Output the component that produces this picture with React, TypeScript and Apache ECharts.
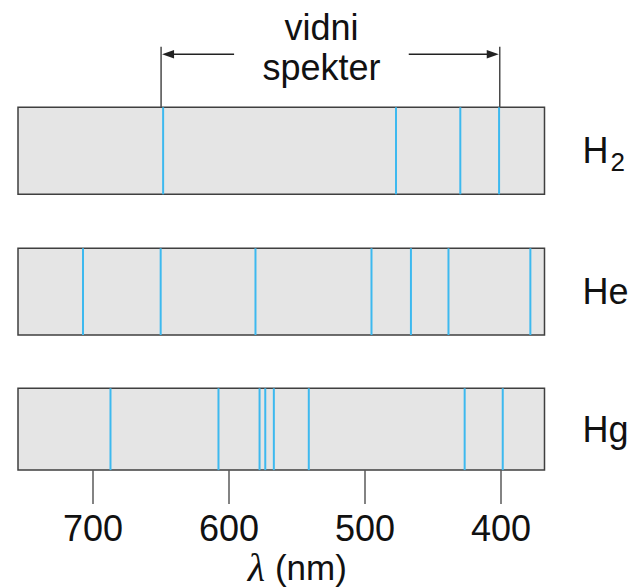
import React, { useEffect, useRef } from "react";
import * as echarts from "echarts";

// ---- data ----
const elements = ["H2", "He", "Hg"];
const h2Lines = [648.5, 477.3, 430.0, 401.5];
const heLines = [707.4, 650.3, 580.6, 495.3, 466.3, 438.7, 378.5];
const hgLines = [687.2, 607.8, 577.6, 573.4, 567.1, 541.4, 426.8, 398.8];
const lineSets = [h2Lines, heLines, hgLines];
const tickValues = [700, 600, 500, 400];
const visibleRange = [650, 401];
const visibleLabel = ["vidni", "spekter"];
const axisMin = 368.1;
const axisMax = 755.2;

const SANS = '"Liberation Sans", Arial, Helvetica, sans-serif';
const SERIF = '"Liberation Serif", "DejaVu Serif", serif';
const LINE_COLOR = "#3db9ef";
const BOX_FILL = "#e5e5e5";
const BOX_BORDER = "#3f3f3f";

export default function App() {
  const ref = useRef<HTMLDivElement>(null);

  useEffect(() => {
    if (!ref.current) return;
    const chart = echarts.init(ref.current, undefined, { renderer: "svg" });

    const gridBase = { left: 18, right: 90.5 };
    const grids: any[] = [
      { ...gridBase, top: 107.3, height: 87, show: true, backgroundColor: BOX_FILL, borderColor: BOX_BORDER, borderWidth: 1.5 },
      { ...gridBase, top: 248.3, height: 86.7, show: true, backgroundColor: BOX_FILL, borderColor: BOX_BORDER, borderWidth: 1.5 },
      { ...gridBase, top: 388.3, height: 87.4, show: true, backgroundColor: BOX_FILL, borderColor: BOX_BORDER, borderWidth: 1.5 },
      { ...gridBase, top: 46.7, height: 60.6, show: false },
    ];

    const hiddenX = (i: number) => ({
      gridIndex: i,
      type: "value",
      min: axisMin,
      max: axisMax,
      inverse: true,
      show: false,
    });

    const xAxes: any[] = [
      hiddenX(0),
      hiddenX(1),
      {
        gridIndex: 2,
        type: "value",
        min: axisMin,
        max: axisMax,
        inverse: true,
        axisLine: { show: false },
        splitLine: { show: false },
        axisTick: {
          show: true,
          length: 34,
          customValues: tickValues,
          lineStyle: { color: "#5a5a5a", width: 1.5 },
        },
        axisLabel: {
          customValues: tickValues,
          fontSize: 36,
          lineHeight: 36,
          color: "#111",
          fontFamily: SANS,
          margin: 40,
        },
        name: "{l|λ}{n|(nm)}",
        nameLocation: "middle",
        nameGap: 73,
        nameTextStyle: {
          padding: [0, 0, 0, 32],
          rich: {
            l: {
              fontFamily: SERIF,
              fontStyle: "italic",
              fontSize: 40,
              color: "#111",
              padding: [0, 10, 0, 0],
            },
            n: { fontFamily: SANS, fontSize: 35, color: "#111" },
          },
        },
      },
      hiddenX(3),
    ];

    const yAxes: any[] = elements.map((name, i) => ({
      gridIndex: i,
      type: "category",
      data: [name],
      position: "right",
      axisLine: { show: false },
      axisTick: { show: false },
      splitLine: { show: false },
      axisLabel: {
        margin: 38,
        align: "left",
        formatter: (v: string) =>
          v === "H2" ? "{h|H}{s|2}" : "{h|" + v + "}",
        rich: {
          h: { fontSize: 36, fontFamily: SANS, color: "#111" },
          s: {
            fontSize: 26,
            fontFamily: SANS,
            color: "#111",
            padding: [22, 0, 0, 2],
            verticalAlign: "bottom",
          },
        },
      },
    }));
    yAxes.push({ gridIndex: 3, type: "value", min: 0, max: 1, show: false });

    const lineSeries = lineSets.map((vals, i) => ({
      type: "custom",
      name: elements[i],
      xAxisIndex: i,
      yAxisIndex: i,
      silent: true,
      data: vals.map((v) => [v, elements[i]]),
      encode: { x: 0, y: 1 },
      renderItem: (params: any, api: any) => {
        const cs = params.coordSys;
        const x = api.coord([api.value(0), 0])[0];
        return {
          type: "line",
          shape: { x1: x, y1: cs.y, x2: x, y2: cs.y + cs.height },
          style: { stroke: LINE_COLOR, lineWidth: 2 },
        };
      },
    }));

    const annotation = {
      type: "custom",
      name: "visible",
      xAxisIndex: 3,
      yAxisIndex: 3,
      silent: true,
      data: [[visibleRange[0], visibleRange[1]]],
      encode: { x: [0, 1] },
      renderItem: (params: any, api: any) => {
        const cs = params.coordSys;
        const xL = api.coord([api.value(0), 0])[0];
        const xR = api.coord([api.value(1), 0])[0];
        const top = cs.y;
        const bottom = cs.y + cs.height;
        const ay = top + 7.6;
        const leftEnd = xL + 73;
        const rightStart = xR - 91;
        const cx = (leftEnd + rightStart) / 2;
        const stroke = { stroke: "#4a4a4a", lineWidth: 1.5 };
        const arrowStroke = { stroke: "#222", lineWidth: 1.5 };
        return {
          type: "group",
          children: [
            { type: "line", shape: { x1: xL, y1: top, x2: xL, y2: bottom }, style: stroke },
            { type: "line", shape: { x1: xR, y1: top, x2: xR, y2: bottom }, style: stroke },
            { type: "line", shape: { x1: xL + 8, y1: ay, x2: leftEnd, y2: ay }, style: arrowStroke },
            { type: "line", shape: { x1: rightStart, y1: ay, x2: xR - 8, y2: ay }, style: arrowStroke },
            {
              type: "polygon",
              shape: { points: [[xL + 1, ay], [xL + 13, ay - 4.2], [xL + 13, ay + 4.2]] },
              style: { fill: "#222" },
            },
            {
              type: "polygon",
              shape: { points: [[xR - 1, ay], [xR - 13, ay - 4.2], [xR - 13, ay + 4.2]] },
              style: { fill: "#222" },
            },
            {
              type: "text",
              style: {
                text: visibleLabel[0],
                x: cx,
                y: top - 19.2,
                align: "center",
                verticalAlign: "middle",
                fill: "#111",
                font: "36px " + SANS,
              },
            },
            {
              type: "text",
              style: {
                text: visibleLabel[1],
                x: cx,
                y: top + 20.3,
                align: "center",
                verticalAlign: "middle",
                fill: "#111",
                font: "36px " + SANS,
              },
            },
          ],
        };
      },
    };

    chart.setOption({
      animation: false,
      backgroundColor: "#ffffff",
      textStyle: { fontFamily: SANS },
      grid: grids,
      xAxis: xAxes,
      yAxis: yAxes,
      series: [...lineSeries, annotation],
    });

    return () => chart.dispose();
  }, []);

  return (
    <div
      ref={ref}
      style={{ position: "fixed", left: 0, top: 0, width: 635, height: 588 }}
    />
  );
}
